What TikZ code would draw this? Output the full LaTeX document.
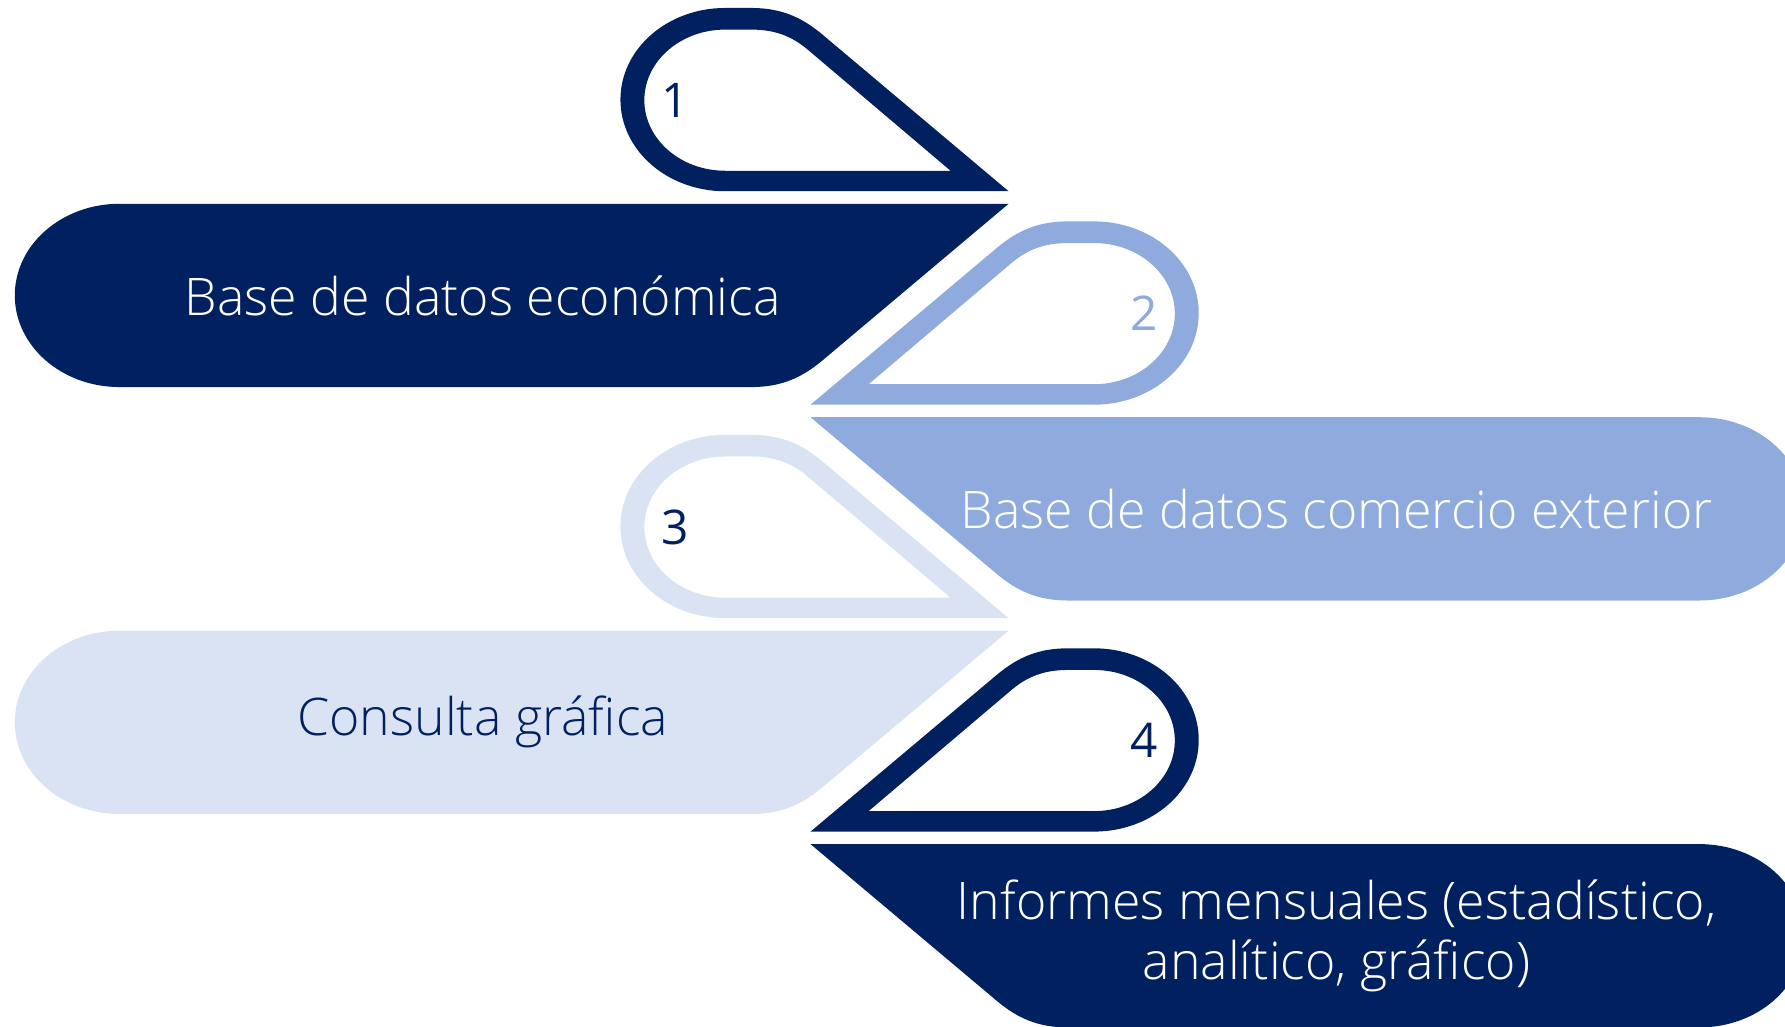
\documentclass[tikz,border=0pt]{standalone}
\usepackage{fontspec}
\IfFontExistsTF{Open Sans Light}{\setmainfont{Open Sans Light}}{\setmainfont{Open Sans}}
\newfontfamily\numfont{Open Sans}
\definecolor{navy}{HTML}{002060}
\definecolor{midblue}{HTML}{8FAADC}
\definecolor{paleblue}{HTML}{DAE3F3}

\def\dropouter{(0,0) -- (-249,0) .. controls (-299.8,0) and (-341,-36) .. (-341,-80.5) .. controls (-341,-125) and (-299.8,-161) .. (-249,-161) -- (-226,-161) .. controls (-200,-161) and (-182,-153) .. (-164,-138) -- cycle}
\def\dropinner{(-51,-18) -- (-249,-18) .. controls (-288.2,-18) and (-320,-45.8) .. (-320,-80) .. controls (-320,-114.2) and (-288.2,-142) .. (-249,-142) -- (-226,-142) .. controls (-205,-142) and (-190,-136) .. (-176,-124) -- cycle}
\def\bannerpath{(0,0) -- (-164,138) .. controls (-182,153) and (-200,161) .. (-226,161) -- (-781,161) .. controls (-831.8,161) and (-873,125) .. (-873,80.5) .. controls (-873,36) and (-831.8,0) .. (-781,0) -- cycle}

\begin{document}
\begin{tikzpicture}[x=1pt,y=-1pt,
    bannertext/.style={font=\fontsize{45.5}{53}\selectfont, align=center},
    numtext/.style={font=\numfont\fontsize{42}{48}\selectfont}]
            \useasboundingbox (0,0) rectangle (1568,901.3);
            \clip (0,0) rectangle (1568,901.3);
            \foreach \i/\s/\shapecol/\numcol/\txtcol/\txt in {1/1/navy/navy/white/{Base de datos económica},
                    2/-1/midblue/midblue/white/{Base de datos comercio exterior},
                    3/1/paleblue/navy/navy/{Consulta gráfica},
                    4/-1/navy/navy/white/{Informes mensuales (estadístico,\\analítico, gráfico)}}{
                \begin{scope}[shift={({799+87*\s},{168+187.5*(\i-1)})}, xscale=\s]
                    \fill[\shapecol, even odd rule] \dropouter \dropinner;
                    \fill[\shapecol, shift={(0,11)}] \bannerpath;
                    \node[numtext, text=\numcol] (num\i) at (-293,-80) {\i};
                    \node[bannertext, text=\txtcol] (label\i) at (-462,91.5) {\txt};
                \end{scope}
            }
        \end{tikzpicture}
\end{document}
